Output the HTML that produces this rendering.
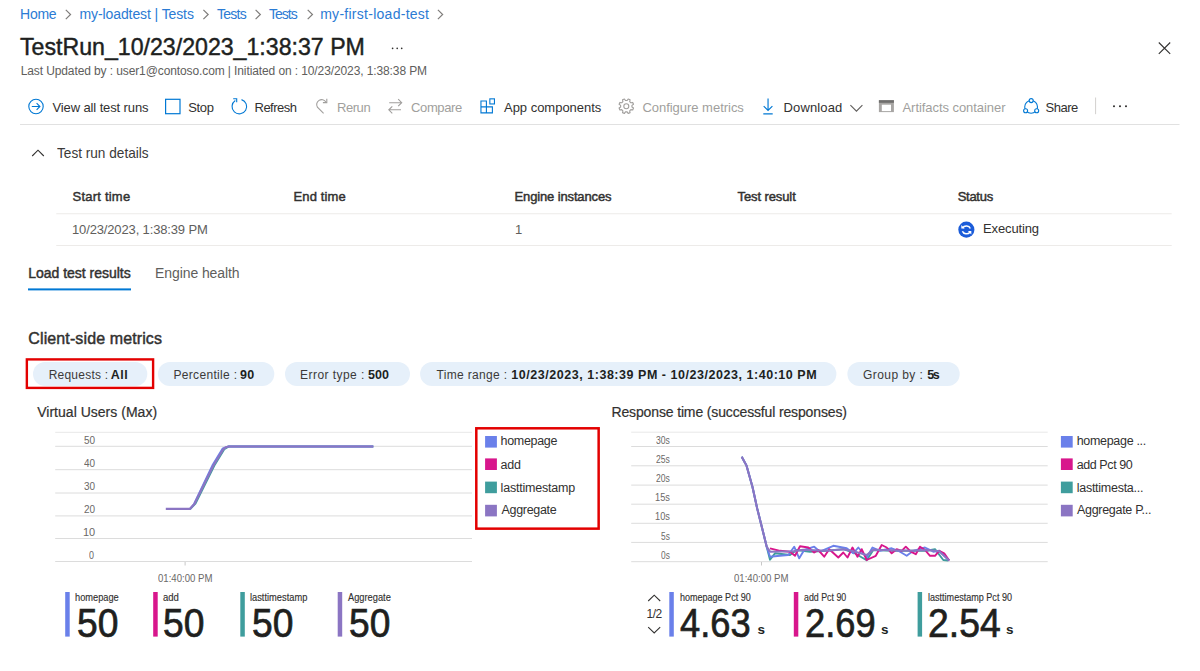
<!DOCTYPE html>
<html><head><meta charset="utf-8"><title>Test run</title><style>
html,body{margin:0;padding:0;background:#fff;}
body{width:1200px;height:671px;position:relative;overflow:hidden;font-family:"Liberation Sans",sans-serif;}
.t{position:absolute;white-space:nowrap;}
svg.ov{position:absolute;left:0;top:0;}
</style></head><body>
<svg class="ov" width="1200" height="671" viewBox="0 0 1200 671">
<polyline points="65.8,9.9 70.55,14.5 65.8,19.1" fill="none" stroke="#7f7d7b" stroke-width="1.2"/>
<polyline points="203.4,9.9 208.15,14.5 203.4,19.1" fill="none" stroke="#7f7d7b" stroke-width="1.2"/>
<polyline points="255.6,9.9 260.35,14.5 255.6,19.1" fill="none" stroke="#7f7d7b" stroke-width="1.2"/>
<polyline points="307.7,9.9 312.45,14.5 307.7,19.1" fill="none" stroke="#7f7d7b" stroke-width="1.2"/>
<polyline points="437.9,9.9 442.65,14.5 437.9,19.1" fill="none" stroke="#7f7d7b" stroke-width="1.2"/>
<circle cx="392.6" cy="48.35" r="0.85" fill="#323130"/>
<circle cx="397.2" cy="48.35" r="0.85" fill="#323130"/>
<circle cx="401.7" cy="48.35" r="0.85" fill="#323130"/>
<path d="M1158.8 42.5 L1170.2 53.9 M1170.2 42.5 L1158.8 53.9" stroke="#323130" stroke-width="1.1" fill="none"/>
<g fill="none" stroke="#0078d4" stroke-width="1.1"><circle cx="36" cy="106.5" r="7.2"/><path d="M31.8 106.5 H39.8 M36.6 103.2 L39.9 106.5 L36.6 109.8"/></g>
<rect x="165.6" y="99.3" width="14.4" height="14.4" fill="none" stroke="#0078d4" stroke-width="1.2"/>
<g fill="none" stroke="#0078d4" stroke-width="1.1"><path d="M241.5 99.6 A7.3 7.3 0 1 1 235.3 100.5"/><path d="M233.2 98.8 H236.7 V102.3"/></g>
<g fill="none" stroke="#a19f9d" stroke-width="1.1"><path d="M323.6 113.4 L317.4 107.2 A4.9 4.9 0 0 1 325.9 102"/><path d="M322.9 102.6 H326.8 V98.7"/></g>
<g fill="none" stroke="#a19f9d" stroke-width="1.1"><path d="M389.2 102.7 H401.5 M398.2 99.2 L401.7 102.7 L398.2 106.2 M401 109.8 H388.8 M392.3 106.3 L388.8 109.8 L392.3 113.3"/></g>
<g fill="none" stroke="#0078d4" stroke-width="1.1"><path d="M480.95 100.95 H486.4 V106.9 H492.4 V112.85 H480.95 Z M480.95 106.9 H486.4 V112.85"/><rect x="489.85" y="98.85" width="4.6" height="5.1"/></g>
<g fill="none" stroke="#a19f9d" stroke-width="1.1" stroke-linejoin="round"><polygon points="631.94,105.36 633.51,104.33 632.72,102.42 630.88,102.81 629.69,101.62 630.08,99.78 628.17,98.99 627.14,100.56 625.46,100.56 624.43,98.99 622.52,99.78 622.91,101.62 621.72,102.81 619.88,102.42 619.09,104.33 620.66,105.36 620.66,107.04 619.09,108.07 619.88,109.98 621.72,109.59 622.91,110.78 622.52,112.62 624.43,113.41 625.46,111.84 627.14,111.84 628.17,113.41 630.08,112.62 629.69,110.78 630.88,109.59 632.72,109.98 633.51,108.07 631.94,107.04"/><circle cx="626.3" cy="106.2" r="2.5"/></g>
<g fill="none" stroke="#0078d4" stroke-width="1.15"><path d="M768.05 98.5 V110.2 M763.7 106.2 L768.05 110.5 L772.4 106.2 M763.3 113.8 H772.7"/></g>
<path d="M850.4 105.1 L856.45 111.1 L862.4 105.1" fill="none" stroke="#605e5c" stroke-width="1.1"/>
<rect x="878.9" y="100.2" width="15" height="11.9" fill="#a8a6a4"/><rect x="878.9" y="100.2" width="15" height="2.6" fill="#6f6e6d"/><rect x="881.8" y="104.7" width="9.2" height="6.4" fill="#fff"/>
<g stroke="#0078d4" stroke-width="1.1"><circle cx="1031.1" cy="106.9" r="6.4" fill="none"/><circle cx="1031.2" cy="100.6" r="2" fill="#fff"/><circle cx="1025.6" cy="110.7" r="2" fill="#fff"/><circle cx="1036.7" cy="110.7" r="2" fill="#fff"/></g>
<line x1="1095.6" y1="97.5" x2="1095.6" y2="114.2" stroke="#d2d0ce" stroke-width="1"/>
<circle cx="1114" cy="106.3" r="1.05" fill="#323130"/>
<circle cx="1120" cy="106.3" r="1.05" fill="#323130"/>
<circle cx="1126" cy="106.3" r="1.05" fill="#323130"/>
<line x1="20" y1="124.5" x2="1179.5" y2="124.5" stroke="#e1e1e1" stroke-width="1"/>
<path d="M32.2 156 L38 150.2 L43.8 156" fill="none" stroke="#323130" stroke-width="1.1"/>
<line x1="56.25" y1="213.75" x2="1171.7" y2="213.75" stroke="#edebe9" stroke-width="1"/>
<line x1="56.25" y1="245.5" x2="1171.7" y2="245.5" stroke="#edebe9" stroke-width="1"/>
<circle cx="966.35" cy="229.65" r="8.05" fill="#1b5cd9"/>
<g fill="none" stroke="#fff" stroke-width="1.5"><path d="M962.6 228 A4.2 3.6 0 0 1 970.3 228.6"/><path d="M962.4 231.3 A4.2 3.6 0 0 0 969.9 232.2"/></g><path d="M961.3 224.9 L961.3 228.5 L964.7 228.5 Z" fill="#fff"/><path d="M971.3 234.4 L971.3 230.9 L967.9 230.9 Z" fill="#fff"/>
<rect x="28" y="288.4" width="103" height="2" fill="#0078d4"/>
<rect x="33" y="362" width="114.3" height="24" rx="12" fill="#e6f0fa"/>
<rect x="157.9" y="362" width="116.4" height="24" rx="12" fill="#e6f0fa"/>
<rect x="285" y="362" width="125.0" height="24" rx="12" fill="#e6f0fa"/>
<rect x="420.1" y="362" width="416.3" height="24" rx="12" fill="#e6f0fa"/>
<rect x="847.4" y="362" width="112.3" height="24" rx="12" fill="#e6f0fa"/>
<rect x="26.85" y="359.4" width="126.25" height="28.5" fill="none" stroke="#e30000" stroke-width="2.4"/>
<line x1="55.2" y1="432.3" x2="472" y2="432.3" stroke="#e8e8e8" stroke-width="1"/>
<line x1="55.2" y1="446.3" x2="472" y2="446.3" stroke="#dcdcdc" stroke-width="1"/>
<line x1="55.2" y1="469.7" x2="472" y2="469.7" stroke="#dcdcdc" stroke-width="1"/>
<line x1="55.2" y1="493" x2="472" y2="493" stroke="#dcdcdc" stroke-width="1"/>
<line x1="55.2" y1="515.9" x2="472" y2="515.9" stroke="#dcdcdc" stroke-width="1"/>
<line x1="55.2" y1="538.5" x2="472" y2="538.5" stroke="#dcdcdc" stroke-width="1"/>
<line x1="55.2" y1="561.5" x2="472" y2="561.5" stroke="#dcdcdc" stroke-width="1"/>
<line x1="185.1" y1="562" x2="185.1" y2="565.5" stroke="#c8c8c8" stroke-width="1"/>
<line x1="631.2" y1="432.2" x2="1047.7" y2="432.2" stroke="#e8e8e8" stroke-width="1"/>
<line x1="631.2" y1="446.5" x2="1047.7" y2="446.5" stroke="#dcdcdc" stroke-width="1"/>
<line x1="631.2" y1="465.8" x2="1047.7" y2="465.8" stroke="#dcdcdc" stroke-width="1"/>
<line x1="631.2" y1="485.1" x2="1047.7" y2="485.1" stroke="#dcdcdc" stroke-width="1"/>
<line x1="631.2" y1="504.2" x2="1047.7" y2="504.2" stroke="#dcdcdc" stroke-width="1"/>
<line x1="631.2" y1="523.3" x2="1047.7" y2="523.3" stroke="#dcdcdc" stroke-width="1"/>
<line x1="631.2" y1="542.4" x2="1047.7" y2="542.4" stroke="#dcdcdc" stroke-width="1"/>
<line x1="631.2" y1="561.7" x2="1047.7" y2="561.7" stroke="#dcdcdc" stroke-width="1"/>
<line x1="761.5" y1="562" x2="761.5" y2="565.5" stroke="#c8c8c8" stroke-width="1"/>
<polyline points="166,508.8 190.5,508.8 195.6,503.5 214.4,465.6 224.3,449.3 229,446.5 373.3,446.5" fill="none" stroke="#3f9d9d" stroke-width="1.8"/>
<polyline points="166,508.8 190,508.8 194,504 212.6,465 222.6,448.6 228.2,446.5 373.3,446.5" fill="none" stroke="#6a80ea" stroke-width="1.8"/>
<polyline points="165.8,508.8 190,508.8 194.4,504 213.4,465.4 223.5,449 226,447.2 228.6,446.5 373.3,446.5" fill="none" stroke="#8b75c3" stroke-width="2.2" stroke-linejoin="round"/>
<rect x="485.1" y="436" width="11.8" height="11.6" fill="#6a80ea"/>
<rect x="485.1" y="458.4" width="11.8" height="11.6" fill="#d8168c"/>
<rect x="485.1" y="481.6" width="11.8" height="11.6" fill="#3f9d9d"/>
<rect x="485.1" y="504.8" width="11.8" height="11.6" fill="#8b75c3"/>
<rect x="1060.9" y="436" width="11.8" height="11.6" fill="#6a80ea"/>
<rect x="1060.9" y="458.4" width="11.8" height="11.6" fill="#d8168c"/>
<rect x="1060.9" y="481.6" width="11.8" height="11.6" fill="#3f9d9d"/>
<rect x="1060.9" y="504.8" width="11.8" height="11.6" fill="#8b75c3"/>
<rect x="476.3" y="428.3" width="122.35" height="100.35" fill="none" stroke="#e30000" stroke-width="2.5"/>
<polyline points="741.7,456.7 746.5,465.6 752.5,487 757.2,508.5 763.2,532.4 766.7,546.7 770.0,559.7 775.0,553.3 790.0,555.0 796.7,550.0 810.0,551.7 826.7,550.8 843.3,549.2 853.3,552.5 866.7,560.3 873.3,550.0 893.3,550.8 910.0,550.8 926.7,550.8 935.0,549.2 943.3,560.0 948.3,560.5" fill="none" stroke="#3f9d9d" stroke-width="1.9" stroke-linejoin="round"/>
<polyline points="741.7,456.7 746.5,465.6 752.5,487 757.2,508.5 763.2,532.4 766.7,546.7 770.0,556.7 780.0,555.8 788.3,555.0 794.2,546.7 799.2,558.3 804.2,550.0 814.2,546.7 820.0,551.7 833.3,545.8 846.7,548.3 853.3,553.3 858.3,547.5 866.7,557.5 872.5,547.5 880.0,550.8 891.7,548.3 898.3,550.8 906.7,555.8 913.3,550.8 925.0,547.5 933.3,551.7 939.2,550.8 949.2,560.5" fill="none" stroke="#6a80ea" stroke-width="1.9" stroke-linejoin="round"/>
<polyline points="770.0,548.3 780.0,550.8 790.0,551.7 795.0,555.8 800.0,546.3 808.3,547.5 814.2,552.5 818.3,550.0 824.2,556.7 829.2,549.2 838.3,557.5 843.3,552.5 847.5,557.5 852.5,547.5 857.5,556.7 861.7,549.2 866.7,560.0 875.8,555.8 881.7,545.0 886.7,547.5 891.7,553.3 896.7,549.2 901.7,550.8 905.8,546.7 910.8,551.7 915.8,554.2 920.0,546.7 925.0,550.0 930.0,555.8 935.0,555.8 939.2,550.8 944.2,553.3 949.2,560.5" fill="none" stroke="#d8168c" stroke-width="1.9" stroke-linejoin="round"/>
<polyline points="741.7,456.7 746.5,465.6 752.5,487 757.2,508.5 763.2,532.4 766.7,546.7 770.0,551.7 793.3,551.3 803.3,549.7 826.7,550.8 843.3,549.2 853.3,551.3 866.7,555.0 873.3,549.7 910.0,550.8 926.7,550.0 939.2,551.3 949.2,560.5" fill="none" stroke="#8b75c3" stroke-width="2.1" stroke-linejoin="round"/>
<rect x="65.2" y="592" width="4.5" height="44.6" fill="#6a80ea"/>
<rect x="153.2" y="592" width="4.5" height="44.6" fill="#d8168c"/>
<rect x="240.3" y="592" width="4.5" height="44.6" fill="#3f9d9d"/>
<rect x="337.7" y="592" width="4.5" height="44.6" fill="#8b75c3"/>
<rect x="669.3" y="592" width="4.5" height="44.6" fill="#6a80ea"/>
<rect x="793.8" y="592" width="4.5" height="44.6" fill="#d8168c"/>
<rect x="917.6" y="592" width="4.5" height="44.6" fill="#3f9d9d"/>
<path d="M648.2 601 L654.2 595.2 L660.2 601 M648.2 627.2 L654.2 633 L660.2 627.2" fill="none" stroke="#323130" stroke-width="1.05"/>
</svg>
<div class="t" id="bc0" style="left:20.10px;top:7.25px;font-size:14px;line-height:14px;color:#2b7bd4;letter-spacing:-0.264px;">Home</div>
<div class="t" id="bc1" style="left:79.50px;top:7.25px;font-size:14px;line-height:14px;color:#2b7bd4;letter-spacing:-0.099px;">my-loadtest | Tests</div>
<div class="t" id="bc2" style="left:217.00px;top:7.25px;font-size:14px;line-height:14px;color:#2b7bd4;letter-spacing:-0.754px;">Tests</div>
<div class="t" id="bc3" style="left:269.00px;top:7.25px;font-size:14px;line-height:14px;color:#2b7bd4;letter-spacing:-1.000px;">Tests</div>
<div class="t" id="bc4" style="left:320.20px;top:7.25px;font-size:14px;line-height:14px;color:#2b7bd4;letter-spacing:0.270px;">my-first-load-test</div>
<div class="t" id="title" style="left:20.00px;top:34.68px;font-size:24px;line-height:24px;color:#201f1e;transform:scaleX(0.9644);transform-origin:0 0;-webkit-text-stroke:0.45px currentColor;">TestRun_10/23/2023_1:38:37 PM</div>
<div class="t" id="sub" style="left:20.70px;top:64.84px;font-size:12px;line-height:12px;color:#605e5c;letter-spacing:-0.106px;">Last Updated by : user1@contoso.com | Initiated on : 10/23/2023, 1:38:38 PM</div>
<div class="t" id="tb0" style="left:52.50px;top:100.74px;font-size:13px;line-height:13px;color:#323130;letter-spacing:-0.116px;">View all test runs</div>
<div class="t" id="tb1" style="left:188.25px;top:100.74px;font-size:13px;line-height:13px;color:#323130;letter-spacing:-0.333px;">Stop</div>
<div class="t" id="tb2" style="left:254.50px;top:100.74px;font-size:13px;line-height:13px;color:#323130;letter-spacing:-0.500px;">Refresh</div>
<div class="t" id="tb3" style="left:337.00px;top:100.74px;font-size:13px;line-height:13px;color:#a19f9d;letter-spacing:-0.450px;">Rerun</div>
<div class="t" id="tb4" style="left:411.00px;top:100.74px;font-size:13px;line-height:13px;color:#a19f9d;letter-spacing:-0.368px;">Compare</div>
<div class="t" id="tb5" style="left:504.00px;top:100.74px;font-size:13px;line-height:13px;color:#323130;letter-spacing:-0.017px;">App components</div>
<div class="t" id="tb6" style="left:642.40px;top:100.74px;font-size:13px;line-height:13px;color:#a19f9d;letter-spacing:-0.025px;">Configure metrics</div>
<div class="t" id="tb7" style="left:783.50px;top:100.74px;font-size:13px;line-height:13px;color:#323130;letter-spacing:0.142px;">Download</div>
<div class="t" id="tb8" style="left:902.50px;top:100.74px;font-size:13px;line-height:13px;color:#a19f9d;letter-spacing:-0.056px;">Artifacts container</div>
<div class="t" id="tb9" style="left:1045.50px;top:100.74px;font-size:13px;line-height:13px;color:#323130;letter-spacing:-0.500px;">Share</div>
<div class="t" id="trd" style="left:56.50px;top:144.50px;font-size:15px;line-height:15px;color:#3b3a39;transform:scaleX(0.9080);transform-origin:0 0;">Test run details</div>
<div class="t" id="th0" style="left:72.50px;top:189.74px;font-size:13px;line-height:13px;color:#323130;letter-spacing:0.222px;-webkit-text-stroke:0.45px currentColor;">Start time</div>
<div class="t" id="th1" style="left:293.50px;top:189.74px;font-size:13px;line-height:13px;color:#323130;letter-spacing:0.142px;-webkit-text-stroke:0.45px currentColor;">End time</div>
<div class="t" id="th2" style="left:514.50px;top:189.74px;font-size:13px;line-height:13px;color:#323130;letter-spacing:-0.133px;-webkit-text-stroke:0.45px currentColor;">Engine instances</div>
<div class="t" id="th3" style="left:737.50px;top:189.74px;font-size:13px;line-height:13px;color:#323130;letter-spacing:-0.100px;-webkit-text-stroke:0.45px currentColor;">Test result</div>
<div class="t" id="th4" style="left:957.70px;top:189.74px;font-size:13px;line-height:13px;color:#323130;letter-spacing:-0.280px;-webkit-text-stroke:0.45px currentColor;">Status</div>
<div class="t" id="td0" style="left:72.00px;top:223.49px;font-size:13px;line-height:13px;color:#605e5c;letter-spacing:-0.143px;">10/23/2023, 1:38:39 PM</div>
<div class="t" id="td1" style="left:515.00px;top:223.49px;font-size:13px;line-height:13px;color:#605e5c;">1</div>
<div class="t" id="td2" style="left:983.00px;top:222.29px;font-size:13px;line-height:13px;color:#323130;letter-spacing:-0.125px;">Executing</div>
<div class="t" id="tab0" style="left:28.20px;top:265.75px;font-size:14px;line-height:14px;color:#323130;letter-spacing:-0.013px;-webkit-text-stroke:0.45px currentColor;">Load test results</div>
<div class="t" id="tab1" style="left:155.00px;top:265.75px;font-size:14px;line-height:14px;color:#605e5c;letter-spacing:-0.083px;">Engine health</div>
<div class="t" id="csm" style="left:28.30px;top:331.05px;font-size:16px;line-height:16px;color:#323130;letter-spacing:0.116px;-webkit-text-stroke:0.45px currentColor;">Client-side metrics</div>
<div class="t" id="p0a" style="left:48.70px;top:369.24px;font-size:12px;line-height:12px;color:#3b3a39;letter-spacing:0.222px;">Requests :</div>
<div class="t" id="p0b" style="left:110.70px;top:368.82px;font-size:12.5px;line-height:12.5px;color:#201f1e;letter-spacing:0.500px;font-weight:700;">All</div>
<div class="t" id="p1a" style="left:173.40px;top:369.24px;font-size:12px;line-height:12px;color:#3b3a39;letter-spacing:0.329px;">Percentile :</div>
<div class="t" id="p1b" style="left:240.00px;top:368.82px;font-size:12.5px;line-height:12.5px;color:#201f1e;letter-spacing:0.400px;font-weight:700;">90</div>
<div class="t" id="p2a" style="left:300.10px;top:369.24px;font-size:12px;line-height:12px;color:#3b3a39;letter-spacing:0.439px;">Error type :</div>
<div class="t" id="p2b" style="left:368.00px;top:368.82px;font-size:12.5px;line-height:12.5px;color:#201f1e;letter-spacing:0.100px;font-weight:700;">500</div>
<div class="t" id="p3a" style="left:436.60px;top:369.24px;font-size:12px;line-height:12px;color:#3b3a39;letter-spacing:0.326px;">Time range :</div>
<div class="t" id="p3b" style="left:511.30px;top:368.82px;font-size:12.5px;line-height:12.5px;color:#201f1e;letter-spacing:0.534px;font-weight:700;">10/23/2023, 1:38:39 PM - 10/23/2023, 1:40:10 PM</div>
<div class="t" id="p4a" style="left:863.00px;top:369.24px;font-size:12px;line-height:12px;color:#3b3a39;letter-spacing:0.425px;">Group by :</div>
<div class="t" id="p4b" style="left:927.20px;top:368.82px;font-size:12.5px;line-height:12.5px;color:#201f1e;letter-spacing:-1.400px;font-weight:700;">5s</div>
<div class="t" id="ct0" style="left:37.20px;top:405.05px;font-size:14px;line-height:14px;color:#323130;letter-spacing:0.020px;-webkit-text-stroke:0.2px currentColor;">Virtual Users (Max)</div>
<div class="t" id="ct1" style="left:611.50px;top:405.05px;font-size:14px;line-height:14px;color:#323130;letter-spacing:-0.143px;-webkit-text-stroke:0.2px currentColor;">Response time (successful responses)</div>
<div class="t" id="ly0" style="left:84.20px;top:434.59px;font-size:11px;line-height:11px;color:#6b6967;transform:scaleX(0.9073);transform-origin:0 0;">50</div>
<div class="t" id="ly1" style="left:84.20px;top:457.99px;font-size:11px;line-height:11px;color:#6b6967;transform:scaleX(0.9073);transform-origin:0 0;">40</div>
<div class="t" id="ly2" style="left:84.20px;top:481.29px;font-size:11px;line-height:11px;color:#6b6967;transform:scaleX(0.9073);transform-origin:0 0;">30</div>
<div class="t" id="ly3" style="left:84.20px;top:504.19px;font-size:11px;line-height:11px;color:#6b6967;transform:scaleX(0.9073);transform-origin:0 0;">20</div>
<div class="t" id="ly4" style="left:83.20px;top:526.79px;font-size:11px;line-height:11px;color:#6b6967;transform:scaleX(0.9979);transform-origin:0 0;">10</div>
<div class="t" id="ly5" style="left:89.00px;top:549.79px;font-size:11px;line-height:11px;color:#6b6967;transform:scaleX(0.8136);transform-origin:0 0;">0</div>
<div class="t" id="ry0" style="left:656.00px;top:434.69px;font-size:11px;line-height:11px;color:#6b6967;transform:scaleX(0.7830);transform-origin:0 0;">30s</div>
<div class="t" id="ry1" style="left:656.00px;top:453.99px;font-size:11px;line-height:11px;color:#6b6967;transform:scaleX(0.7830);transform-origin:0 0;">25s</div>
<div class="t" id="ry2" style="left:656.00px;top:473.29px;font-size:11px;line-height:11px;color:#6b6967;transform:scaleX(0.7830);transform-origin:0 0;">20s</div>
<div class="t" id="ry3" style="left:655.00px;top:492.39px;font-size:11px;line-height:11px;color:#6b6967;transform:scaleX(0.8388);transform-origin:0 0;">15s</div>
<div class="t" id="ry4" style="left:655.00px;top:511.49px;font-size:11px;line-height:11px;color:#6b6967;transform:scaleX(0.8388);transform-origin:0 0;">10s</div>
<div class="t" id="ry5" style="left:661.00px;top:530.59px;font-size:11px;line-height:11px;color:#6b6967;transform:scaleX(0.7601);transform-origin:0 0;">5s</div>
<div class="t" id="ry6" style="left:661.00px;top:549.89px;font-size:11px;line-height:11px;color:#6b6967;transform:scaleX(0.7601);transform-origin:0 0;">0s</div>
<div class="t" id="lx" style="left:158.00px;top:573.11px;font-size:10.5px;line-height:10.5px;color:#6b6967;transform:scaleX(0.9153);transform-origin:0 0;">01:40:00 PM</div>
<div class="t" id="rx" style="left:734.00px;top:573.11px;font-size:10.5px;line-height:10.5px;color:#6b6967;transform:scaleX(0.9153);transform-origin:0 0;">01:40:00 PM</div>
<div class="t" id="lg0" style="left:500.60px;top:435.42px;font-size:12.5px;line-height:12.5px;color:#323130;letter-spacing:-0.316px;">homepage</div>
<div class="t" id="lg1" style="left:500.60px;top:458.82px;font-size:12.5px;line-height:12.5px;color:#323130;letter-spacing:-0.200px;">add</div>
<div class="t" id="lg2" style="left:500.60px;top:481.82px;font-size:12.5px;line-height:12.5px;color:#323130;letter-spacing:-0.216px;">lasttimestamp</div>
<div class="t" id="lg3" style="left:501.60px;top:504.42px;font-size:12.5px;line-height:12.5px;color:#323130;letter-spacing:-0.321px;">Aggregate</div>
<div class="t" id="rg0" style="left:1076.70px;top:435.42px;font-size:12.5px;line-height:12.5px;color:#323130;letter-spacing:-0.309px;">homepage ...</div>
<div class="t" id="rg1" style="left:1076.70px;top:458.82px;font-size:12.5px;line-height:12.5px;color:#323130;letter-spacing:-0.411px;">add Pct 90</div>
<div class="t" id="rg2" style="left:1076.70px;top:481.82px;font-size:12.5px;line-height:12.5px;color:#323130;letter-spacing:-0.262px;">lasttimesta...</div>
<div class="t" id="rg3" style="left:1077.00px;top:504.42px;font-size:12.5px;line-height:12.5px;color:#323130;letter-spacing:-0.300px;">Aggregate P...</div>
<div class="t" id="sl0" style="left:75.00px;top:591.81px;font-size:10.5px;line-height:10.5px;color:#323130;transform:scaleX(0.8819);transform-origin:0 0;-webkit-text-stroke:0.15px currentColor;">homepage</div>
<div class="t" id="sn0" style="left:76.50px;top:602.93px;font-size:40px;line-height:40px;color:#201f1e;transform:scaleX(0.9303);transform-origin:0 0;-webkit-text-stroke:0.7px currentColor;">50</div>
<div class="t" id="sl1" style="left:162.50px;top:591.81px;font-size:10.5px;line-height:10.5px;color:#323130;transform:scaleX(0.9078);transform-origin:0 0;-webkit-text-stroke:0.15px currentColor;">add</div>
<div class="t" id="sn1" style="left:162.80px;top:602.93px;font-size:40px;line-height:40px;color:#201f1e;transform:scaleX(0.9303);transform-origin:0 0;-webkit-text-stroke:0.7px currentColor;">50</div>
<div class="t" id="sl2" style="left:250.00px;top:591.81px;font-size:10.5px;line-height:10.5px;color:#323130;transform:scaleX(0.8847);transform-origin:0 0;-webkit-text-stroke:0.15px currentColor;">lasttimestamp</div>
<div class="t" id="sn2" style="left:251.50px;top:602.93px;font-size:40px;line-height:40px;color:#201f1e;transform:scaleX(0.9303);transform-origin:0 0;-webkit-text-stroke:0.7px currentColor;">50</div>
<div class="t" id="sl3" style="left:348.00px;top:591.81px;font-size:10.5px;line-height:10.5px;color:#323130;transform:scaleX(0.8838);transform-origin:0 0;-webkit-text-stroke:0.15px currentColor;">Aggregate</div>
<div class="t" id="sn3" style="left:349.00px;top:602.93px;font-size:40px;line-height:40px;color:#201f1e;transform:scaleX(0.9291);transform-origin:0 0;-webkit-text-stroke:0.7px currentColor;">50</div>
<div class="t" id="rl0" style="left:679.50px;top:591.81px;font-size:10.5px;line-height:10.5px;color:#323130;transform:scaleX(0.8588);transform-origin:0 0;-webkit-text-stroke:0.15px currentColor;">homepage Pct 90</div>
<div class="t" id="rn0" style="left:680.00px;top:602.93px;font-size:40px;line-height:40px;color:#201f1e;transform:scaleX(0.9074);transform-origin:0 0;-webkit-text-stroke:0.7px currentColor;">4.63</div>
<div class="t" id="ru0" style="left:757.50px;top:623.37px;font-size:13.5px;line-height:13.5px;color:#201f1e;font-weight:700;">s</div>
<div class="t" id="rl1" style="left:804.00px;top:591.81px;font-size:10.5px;line-height:10.5px;color:#323130;transform:scaleX(0.8404);transform-origin:0 0;-webkit-text-stroke:0.15px currentColor;">add Pct 90</div>
<div class="t" id="rn1" style="left:804.50px;top:602.93px;font-size:40px;line-height:40px;color:#201f1e;transform:scaleX(0.9072);transform-origin:0 0;-webkit-text-stroke:0.7px currentColor;">2.69</div>
<div class="t" id="ru1" style="left:881.00px;top:623.37px;font-size:13.5px;line-height:13.5px;color:#201f1e;font-weight:700;">s</div>
<div class="t" id="rl2" style="left:928.00px;top:591.81px;font-size:10.5px;line-height:10.5px;color:#323130;transform:scaleX(0.8618);transform-origin:0 0;-webkit-text-stroke:0.15px currentColor;">lasttimestamp Pct 90</div>
<div class="t" id="rn2" style="left:928.00px;top:602.93px;font-size:40px;line-height:40px;color:#201f1e;transform:scaleX(0.9336);transform-origin:0 0;-webkit-text-stroke:0.7px currentColor;">2.54</div>
<div class="t" id="ru2" style="left:1006.00px;top:623.37px;font-size:13.5px;line-height:13.5px;color:#201f1e;font-weight:700;">s</div>
<div class="t" id="pg" style="left:646.50px;top:608.14px;font-size:12px;line-height:12px;color:#323130;letter-spacing:-0.500px;">1/2</div>
</body></html>
